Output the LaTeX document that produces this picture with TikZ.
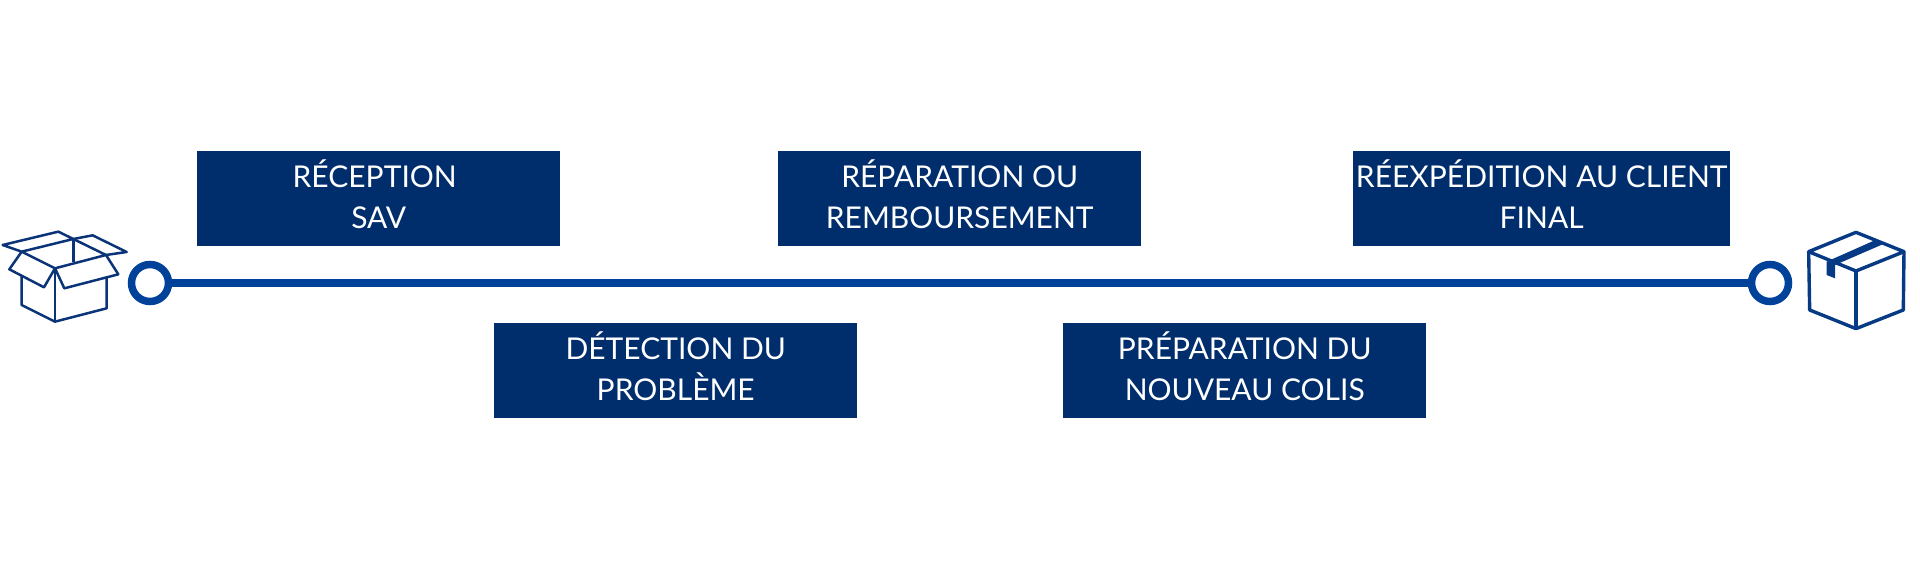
\documentclass[tikz,border=0pt]{standalone}
\usepackage{fontspec}
\setmainfont{Lato}
\definecolor{boxblue}{HTML}{002E6D}
\definecolor{lineblue}{HTML}{00429A}
\definecolor{iconblue}{HTML}{0B3478}
\definecolor{iconbluetwo}{HTML}{063A85}
\tikzset{
  stepbox/.style={fill=boxblue,draw=none,inner sep=0pt,anchor=north west,minimum height=95pt,minimum width=363pt},
  steptext/.style={text=white,inner sep=0pt,align=center,font=\fontsize{30}{41}\selectfont,yshift=4.5pt,label distance=0pt},
  ring/.style={circle,draw=lineblue,line width=7.5pt,fill=white,minimum size=37pt,inner sep=0pt},
  iconline/.style={draw=iconblue,line width=2.5pt,line join=round},
  iconlineb/.style={draw=iconbluetwo,line width=3.4pt,line join=round},
}
\begin{document}
\begin{tikzpicture}[x=1pt,y=-1pt]
\useasboundingbox (0,0) rectangle (1920,569);
\fill[white] (0,0) rectangle (1920,569);
\node[stepbox,label={[steptext]center:RÉCEPTION\hspace*{8pt}\\SAV}] (a) at (197,151) {};
\node[stepbox,label={[steptext]center:DÉTECTION DU\\PROBLÈME}] (b) at (494,323) {};
\node[stepbox,label={[steptext]center:RÉPARATION OU\\REMBOURSEMENT}] (c) at (778,151) {};
\node[stepbox,label={[steptext]center:PRÉPARATION DU\\NOUVEAU COLIS}] (d) at (1063,323) {};
\node[stepbox,minimum width=377pt,label={[steptext]center:RÉEXPÉDITION AU CLIENT\\FINAL}] (e) at (1353,151) {};
\node[ring] (s) at (150,283) {};
\node[ring] (t) at (1770,283) {};
\draw[lineblue,line width=7.5pt,shorten <=-2pt,shorten >=-2pt] (s) -- (t);
% open box
\begin{scope}[shift={(0,210)},x=0.3333pt,y=-0.3333pt]
\draw[iconline] (8,105) -- (175,65) -- (220,87) -- (65,125) -- cycle;
\draw[iconline] (220,87) -- (278,76) -- (380,126) -- (318,135);
\draw[iconline] (65,125) -- (165,175) -- (318,135) -- (220,87);
\draw[iconline] (220,87) -- (220,157);
\draw[iconline] (65,125) -- (28,178) -- (132,232) -- (165,175);
\draw[iconline] (165,175) -- (193,235) -- (355,193) -- (318,135);
\draw[iconline] (65,197) -- (65,285) -- (165,335) -- (320,295) -- (320,203);
\draw[iconline] (165,175) -- (165,335);
\end{scope}
% closed box
\begin{scope}[shift={(1720,210)},x=0.3333pt,y=-0.3333pt]
\draw[iconlineb] (408,67) -- (552,125) -- (408,183) -- (266,125) -- cycle;
\draw[iconlineb] (266,125) -- (269,300) -- (408,356) -- (550,300) -- (552,125);
\draw[iconlineb] (408,183) -- (408,356);
\fill[iconbluetwo] (320,155) -- (462,92) -- (488,103) -- (345,165) -- (345,205) -- (320,195) -- cycle;
\end{scope}
\end{tikzpicture}
\end{document}
